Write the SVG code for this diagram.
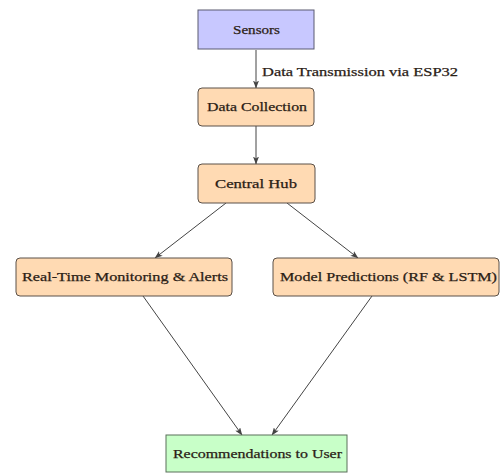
<svg xmlns="http://www.w3.org/2000/svg" width="504" height="475" viewBox="0 0 504 475">
<style>
text{font-family:"Liberation Serif","DejaVu Serif",serif;font-size:13px;fill:#2a2015;stroke:#2a2015;stroke-width:0.25;text-anchor:middle}
.o{fill:#ffdab3;stroke:#5a5048;stroke-width:1}
.e{fill:none;stroke:#444;stroke-width:1}
</style>
<defs>
<marker id="a" viewBox="0 0 8 6" refX="7.5" refY="3" markerWidth="8" markerHeight="6" markerUnits="userSpaceOnUse" orient="auto">
<path d="M0,0 L8,3 L0,6 L2,3 Z" fill="#444"/>
</marker>
</defs>
<rect width="504" height="475" fill="#fff"/>
<g id="edges">
<line class="e" x1="256" y1="50" x2="256" y2="88" marker-end="url(#a)"/>
<line class="e" x1="256" y1="126" x2="256" y2="164" marker-end="url(#a)"/>
<line class="e" x1="226" y1="203" x2="155" y2="258" marker-end="url(#a)"/>
<line class="e" x1="287" y1="203" x2="358" y2="258" marker-end="url(#a)"/>
<line class="e" x1="143" y1="296" x2="242" y2="435" marker-end="url(#a)"/>
<line class="e" x1="372" y1="296" x2="272" y2="435" marker-end="url(#a)"/>
<text x="262" y="76" style="text-anchor:start" textLength="196" lengthAdjust="spacingAndGlyphs">Data Transmission via ESP32</text>
</g>
<g id="sensors">
<rect x="198" y="10" width="116" height="39" fill="#c8c8ff" stroke="#5a5a70"/>
<text x="256.5" y="34" textLength="47" lengthAdjust="spacingAndGlyphs">Sensors</text>
</g>
<g id="data-collection">
<rect class="o" x="198" y="88" width="116" height="38" rx="4"/>
<text x="257" y="111" textLength="100" lengthAdjust="spacingAndGlyphs">Data Collection</text>
</g>
<g id="central-hub">
<rect class="o" x="198" y="164" width="117" height="39" rx="4"/>
<text x="256" y="188" textLength="82" lengthAdjust="spacingAndGlyphs">Central Hub</text>
</g>
<g id="real-time">
<rect class="o" x="16" y="258" width="216" height="38" rx="4"/>
<text x="125" y="281" textLength="206" lengthAdjust="spacingAndGlyphs">Real-Time Monitoring &amp; Alerts</text>
</g>
<g id="model">
<rect class="o" x="273" y="258" width="226" height="38" rx="4"/>
<text x="388.5" y="281" textLength="217" lengthAdjust="spacingAndGlyphs">Model Predictions (RF &amp; LSTM)</text>
</g>
<g id="recommendations">
<rect x="166" y="435" width="181" height="37" fill="#c8ffc8" stroke="#5a705a"/>
<text x="257.5" y="458" textLength="169" lengthAdjust="spacingAndGlyphs">Recommendations to User</text>
</g>
</svg>
